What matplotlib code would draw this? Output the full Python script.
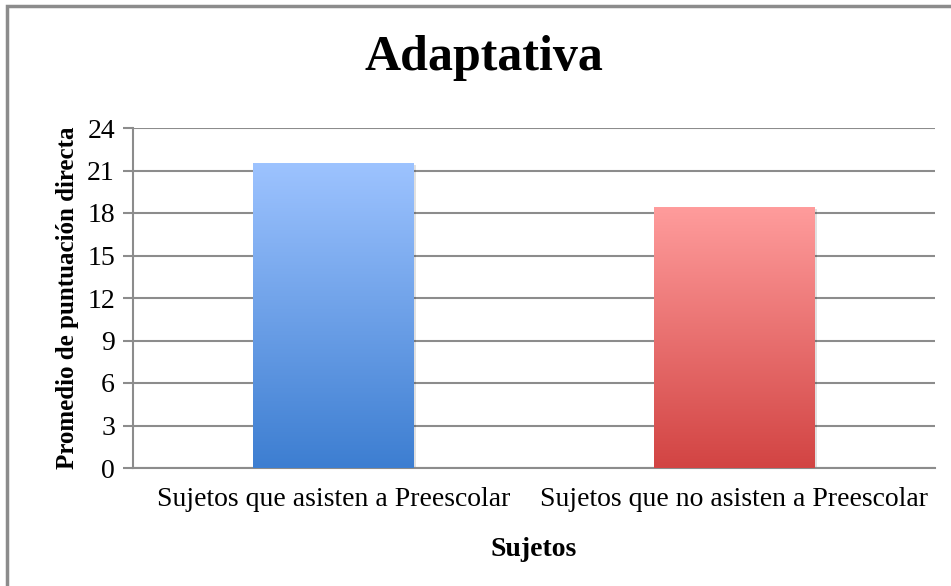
import numpy as np
import matplotlib
matplotlib.use('Agg')
import matplotlib.pyplot as plt
from matplotlib.colors import LinearSegmentedColormap
from matplotlib.patches import Rectangle

categories = ['Sujetos que asisten a Preescolar', 'Sujetos que no asisten a Preescolar']
values = [21.5, 18.4]
y_ticks = [0, 3, 6, 9, 12, 15, 18, 21, 24]
# gradient colours (bottom, top) for each bar
grad_colors = [('#3d7ed1', '#9dc3ff'), ('#d24443', '#ff9c9c')]

plt.rcParams['font.family'] = ['Liberation Serif', 'DejaVu Serif']

fig = plt.figure(figsize=(9.51, 5.86), dpi=100)
ax = fig.add_axes([133/951, 1-468/586, (935-133)/951, 340/586])

x = np.arange(len(categories))
bars = ax.bar(x, values, width=0.4, color='none', zorder=3)

# gradient fill inside each bar
grad = np.linspace(0, 1, 256).reshape(-1, 1)
for bar, (c0, c1) in zip(bars, grad_colors):
    cmap = LinearSegmentedColormap.from_list('g', [c0, c1])
    x0, h, w = bar.get_x(), bar.get_height(), bar.get_width()
    # soft shadow
    ax.add_patch(Rectangle((x0 + 0.006, -0.1), w, h, color='#000000', alpha=0.12, zorder=2, lw=0))
    ax.imshow(grad, cmap=cmap, origin='lower', aspect='auto',
              extent=[x0, x0 + w, 0, h], zorder=3)

ax.set_xlim(-0.5, 1.5)
ax.set_ylim(0, 24)
ax.set_yticks(y_ticks)
ax.set_xticks(x)
ax.set_xticklabels(categories, fontsize=20)
ax.tick_params(axis='y', labelsize=20, length=7, width=1.5, color='#8c8c8c', pad=6)
ax.tick_params(axis='x', length=0, pad=14)
ax.grid(axis='y', color='#8c8c8c', lw=1.5, zorder=1)
ax.set_axisbelow(True)
for s in ['top', 'right']:
    ax.spines[s].set_visible(False)
for s in ['left', 'bottom']:
    ax.spines[s].set_color('#8c8c8c')
    ax.spines[s].set_linewidth(1.5)

ax.set_ylabel('Promedio de puntuación directa', fontsize=18, fontweight='bold', labelpad=6)
ax.set_xlabel('Sujetos', fontsize=20, fontweight='bold', labelpad=18)

fig.text(0.509, 0.901, 'Adaptativa', ha='center', va='center', fontsize=36, fontweight='bold')

# outer chart border
fig.add_artist(Rectangle((7/951, -0.1), 1.2, 1.1 - 6/586, transform=fig.transFigure,
                         fill=False, edgecolor='#8c8c8c', lw=2.5))

fig.savefig('out.png', dpi=100)
